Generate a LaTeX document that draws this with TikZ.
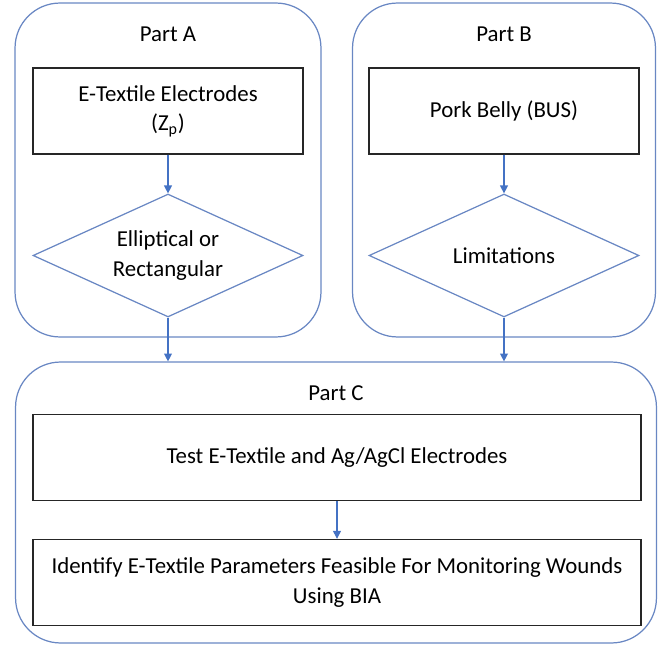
\documentclass[tikz,border=0pt]{standalone}
\usepackage{fontspec}
\setmainfont{Carlito}
\usetikzlibrary{arrows.meta,positioning,shapes.geometric}

\definecolor{partblue}{RGB}{105,135,195}
\definecolor{arrowblue}{RGB}{68,114,196}

\begin{document}
\begin{tikzpicture}[
    x=0.02cm, y=-0.02cm,
    every node/.style={font=\fontsize{13}{17}\selectfont},
    partbox/.style={rectangle, draw=partblue, line width=0.7pt, rounded corners=0.9cm},
    stepbox/.style={rectangle, draw=black!85, line width=0.8pt, minimum width=5.4cm, minimum height=1.72cm, align=center},
    widebox/.style={stepbox, minimum width=12.16cm},
    decision/.style={diamond, draw=partblue, line width=0.7pt, aspect=2.2, inner sep=0pt, minimum width=5.4cm, minimum height=2.46cm, align=center},
    arrow/.style={-{Triangle[length=4.5pt,width=4.5pt]}, draw=arrowblue, fill=arrowblue, line width=0.7pt},
    title/.style={align=center}
]
\useasboundingbox (0,0) rectangle (659,645);

% Containers
\node[partbox, minimum width=6.12cm, minimum height=6.68cm] (parta) at (168,170) {};
\node[partbox, minimum width=6.06cm, minimum height=6.68cm] (partb) at (504,170) {};
\node[partbox, minimum width=12.82cm, minimum height=5.62cm] (partc) at (336,502.5) {};

\node[title] (ta) at (168,34) {Part A};
\node[title] (tb) at (504,34) {Part B};
\node[title] (tc) at (336,393) {Part C};

% Part A
\node[stepbox] (electrodes) at (168,111) {E-Textile Electrodes\\(Z\textsubscript{p})};
\node[decision] (shape) at (168,255.5) {Elliptical or\\Rectangular};
\draw[arrow] (electrodes) -- (shape);

% Part B
\node[stepbox] (pork) at (504,111) {Pork Belly (BUS)};
\node[decision] (limits) at (504,255.5) {Limitations};
\draw[arrow] (pork) -- (limits);

% Part C
\node[widebox] (test) at (337,457.5) {Test E-Textile and Ag/AgCl Electrodes};
\node[widebox] (identify) at (337,582.5) {Identify E-Textile Parameters Feasible For Monitoring Wounds\\Using BIA};
\draw[arrow] (test) -- (identify);

\draw[arrow] (shape.south) -- (shape.south |- partc.north);
\draw[arrow] (limits.south) -- (limits.south |- partc.north);

\end{tikzpicture}
\end{document}
